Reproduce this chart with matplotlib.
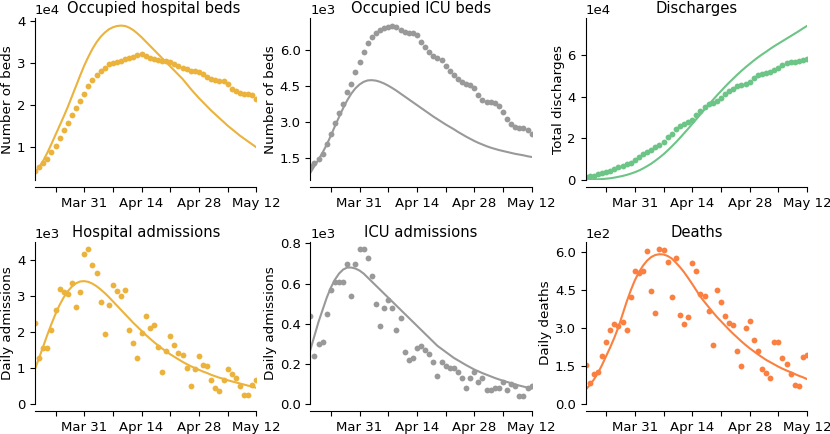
import matplotlib
matplotlib.use("Agg")
import matplotlib.pyplot as plt
import matplotlib.dates as mdates
from matplotlib.ticker import MaxNLocator
import pandas as pd

dates = pd.date_range("2020-03-19", "2020-05-12", freq="D")

# occupied hospital beds (x1e4): observed dots and model line
beds_obs = [0.41, 0.51, 0.60, 0.69, 0.87, 1.02, 1.21, 1.39, 1.56, 1.75, 1.92, 2.08, 2.26, 2.45,
            2.60, 2.71, 2.82, 2.89, 2.98, 3.01, 3.03, 3.06, 3.10, 3.13, 3.15, 3.19, 3.21, 3.18,
            3.13, 3.10, 3.07, 3.06, 3.05, 3.02, 2.99, 2.94, 2.89, 2.85, 2.82, 2.82, 2.79, 2.74,
            2.66, 2.61, 2.60, 2.58, 2.56, 2.50, 2.39, 2.32, 2.28, 2.26, 2.25, 2.23, 2.15]
beds_fit = [0.37, 0.50, 0.66, 0.85, 1.06, 1.28, 1.50, 1.72, 1.95, 2.20, 2.45, 2.70, 2.94, 3.15,
            3.34, 3.50, 3.63, 3.73, 3.81, 3.86, 3.89, 3.90, 3.89, 3.85, 3.79, 3.71, 3.62, 3.52,
            3.42, 3.32, 3.22, 3.12, 3.02, 2.92, 2.82, 2.72, 2.62, 2.50, 2.38, 2.27, 2.16, 2.06,
            1.96, 1.86, 1.77, 1.68, 1.59, 1.50, 1.42, 1.34, 1.26, 1.19, 1.12, 1.05, 0.98]

# occupied ICU beds (x1e3)
icu_beds_obs = [1.15, 1.27, 1.46, 1.67, 2.09, 2.51, 2.94, 3.35, 3.75, 4.25, 4.60, 5.06, 5.48, 5.93,
                6.29, 6.56, 6.71, 6.84, 6.92, 6.98, 7.02, 6.95, 6.84, 6.74, 6.71, 6.70, 6.63, 6.34,
                6.11, 5.90, 5.75, 5.66, 5.58, 5.33, 5.13, 4.97, 4.80, 4.67, 4.60, 4.55, 4.41, 4.11,
                3.93, 3.84, 3.81, 3.77, 3.65, 3.39, 3.11, 2.90, 2.80, 2.76, 2.72, 2.65, 2.48]
icu_beds_fit = [0.87, 1.15, 1.42, 1.72, 2.05, 2.42, 2.82, 3.20, 3.57, 3.90, 4.18, 4.40, 4.56, 4.67,
                4.73, 4.74, 4.72, 4.67, 4.60, 4.51, 4.41, 4.30, 4.18, 4.06, 3.94, 3.82, 3.70, 3.58,
                3.46, 3.34, 3.22, 3.11, 3.00, 2.89, 2.79, 2.69, 2.58, 2.48, 2.38, 2.29, 2.20, 2.12,
                2.05, 1.98, 1.92, 1.87, 1.82, 1.78, 1.74, 1.70, 1.66, 1.63, 1.60, 1.56, 1.53]

# cumulative discharges (x1e4)
disch_obs = [0.16, 0.19, 0.22, 0.27, 0.32, 0.38, 0.45, 0.53, 0.61, 0.68, 0.75, 0.83, 0.96, 1.11,
             1.23, 1.34, 1.46, 1.59, 1.69, 1.83, 2.07, 2.23, 2.44, 2.60, 2.71, 2.79, 2.87, 3.11,
             3.30, 3.50, 3.66, 3.71, 3.77, 3.95, 4.11, 4.25, 4.38, 4.49, 4.54, 4.59, 4.70, 4.90,
             5.03, 5.10, 5.13, 5.18, 5.25, 5.38, 5.53, 5.62, 5.65, 5.65, 5.68, 5.73, 5.81]
disch_fit = [0.02, 0.02, 0.03, 0.04, 0.05, 0.07, 0.09, 0.12, 0.16, 0.20, 0.25, 0.31, 0.38, 0.46,
             0.56, 0.67, 0.79, 0.93, 1.08, 1.24, 1.42, 1.61, 1.81, 2.02, 2.24, 2.46, 2.69, 2.92,
             3.15, 3.38, 3.61, 3.83, 4.05, 4.26, 4.47, 4.67, 4.86, 5.05, 5.23, 5.40, 5.56, 5.72,
             5.87, 6.01, 6.14, 6.28, 6.41, 6.53, 6.65, 6.77, 6.89, 7.01, 7.13, 7.26, 7.38]

# daily hospital admissions (x1e3)
hosp_adm_obs = [2.24, 1.27, 1.56, 1.55, 2.06, 2.62, 3.18, 3.10, 3.06, 3.36, 2.69, 3.12, 4.16, 4.29,
                3.86, 3.63, 2.82, 1.94, 2.75, 3.29, 3.15, 2.99, 3.17, 2.06, 1.69, 1.27, 1.97, 2.43,
                2.10, 2.18, 1.57, 0.90, 1.46, 1.90, 1.63, 1.42, 1.35, 1.00, 0.49, 0.97, 1.33, 1.08,
                1.06, 0.67, 0.45, 0.35, 0.68, 0.97, 0.83, 0.72, 0.51, 0.26, 0.26, 0.53, 0.68]
hosp_adm_fit = [0.97, 1.28, 1.60, 1.92, 2.22, 2.50, 2.75, 2.96, 3.13, 3.26, 3.35, 3.40, 3.41, 3.39,
                3.34, 3.27, 3.18, 3.08, 2.97, 2.85, 2.73, 2.61, 2.49, 2.37, 2.25, 2.14, 2.03, 1.92,
                1.82, 1.72, 1.63, 1.54, 1.46, 1.38, 1.31, 1.24, 1.17, 1.11, 1.05, 1.00, 0.95, 0.90,
                0.86, 0.81, 0.77, 0.73, 0.70, 0.66, 0.63, 0.60, 0.57, 0.54, 0.51, 0.48, 0.45]

# daily ICU admissions (x1e3)
icu_adm_obs = [0.44, 0.24, 0.30, 0.31, 0.45, 0.57, 0.61, 0.61, 0.61, 0.70, 0.54, 0.70, 0.77, 0.77,
               0.73, 0.64, 0.50, 0.39, 0.48, 0.52, 0.48, 0.37, 0.43, 0.26, 0.22, 0.23, 0.28, 0.29,
               0.27, 0.25, 0.21, 0.14, 0.21, 0.19, 0.18, 0.18, 0.16, 0.13, 0.08, 0.13, 0.16, 0.11,
               0.13, 0.07, 0.07, 0.08, 0.08, 0.11, 0.07, 0.10, 0.09, 0.04, 0.04, 0.08, 0.09]
icu_adm_fit = [0.27, 0.34, 0.41, 0.47, 0.53, 0.58, 0.62, 0.65, 0.67, 0.68, 0.68, 0.675, 0.665, 0.65,
               0.63, 0.61, 0.59, 0.57, 0.55, 0.53, 0.51, 0.49, 0.47, 0.45, 0.43, 0.41, 0.39, 0.37,
               0.35, 0.33, 0.31, 0.29, 0.275, 0.26, 0.245, 0.23, 0.218, 0.206, 0.194, 0.183, 0.172,
               0.163, 0.154, 0.146, 0.138, 0.130, 0.123, 0.116, 0.110, 0.104, 0.098, 0.092, 0.087,
               0.082, 0.077]

# daily deaths (x1e2)
deaths_obs = [1.55, 0.83, 1.17, 1.25, 1.89, 2.44, 2.93, 3.18, 3.07, 3.26, 2.95, 4.24, 5.27, 5.19,
              5.26, 6.07, 4.48, 3.62, 6.13, 6.08, 5.63, 4.24, 5.79, 3.54, 3.17, 3.44, 5.59, 5.26,
              4.36, 4.29, 3.68, 2.32, 4.50, 4.05, 3.48, 3.22, 3.13, 2.08, 1.52, 3.01, 3.28, 2.52,
              2.08, 1.38, 1.21, 1.02, 2.45, 2.45, 1.81, 1.59, 1.19, 0.77, 0.70, 1.85, 1.96]
deaths_fit = [0.57, 0.75, 0.97, 1.23, 1.55, 1.90, 2.25, 2.63, 3.05, 3.55, 4.05, 4.50, 4.90, 5.22,
              5.48, 5.68, 5.82, 5.90, 5.93, 5.92, 5.86, 5.76, 5.60, 5.42, 5.22, 4.99, 4.75, 4.50,
              4.25, 4.04, 3.84, 3.64, 3.45, 3.28, 3.11, 2.94, 2.78, 2.63, 2.48, 2.34, 2.21, 2.09,
              1.97, 1.86, 1.75, 1.66, 1.57, 1.48, 1.40, 1.33, 1.26, 1.19, 1.12, 1.06, 0.99]

titles = ["Occupied hospital beds", "Occupied ICU beds", "Discharges",
          "Hospital admissions", "ICU admissions", "Deaths"]
ylabels = ["Number of beds", "Number of beds", "Total discharges",
           "Daily admissions", "Daily admissions", "Daily deaths"]
exponents = [4, 3, 4, 3, 3, 2]
observed = [beds_obs, icu_beds_obs, disch_obs, hosp_adm_obs, icu_adm_obs, deaths_obs]
fitted = [beds_fit, icu_beds_fit, disch_fit, hosp_adm_fit, icu_adm_fit, deaths_fit]
colors = ["#ebb33b", "#999999", "#6cc486", "#ebb33b", "#999999", "#fb8040"]
start_at_zero = [False, False, True, True, True, True]

plt.rcParams["xtick.labelsize"] = 9.5
plt.rcParams["ytick.labelsize"] = 9.5

fig, axes = plt.subplots(2, 3, figsize=(8.3, 4.34), dpi=100)
fig.subplots_adjust(left=0.0422, right=0.9723, top=0.958, bottom=0.069,
                    wspace=0.244, hspace=0.383)

for k, ax in enumerate(axes.flat):
    scale = 10 ** exponents[k]
    obs = [v * scale for v in observed[k]]
    fit = [v * scale for v in fitted[k]]
    ax.plot(dates, fit, color=colors[k], lw=1.5)
    ax.plot(dates, obs, "o", color=colors[k], ms=4.2, mec="none")

    ax.set_xlim(dates[0], dates[-1])
    if start_at_zero[k]:
        ax.set_ylim(bottom=0)

    ax.set_xticks(dates[12::14])
    ax.set_xticks(dates[5::14], minor=True)
    ax.xaxis.set_major_formatter(mdates.DateFormatter("%b %d"))
    ax.tick_params(axis="x", which="minor", length=3.5, width=0.8)

    ax.yaxis.set_major_locator(MaxNLocator(nbins=5, steps=[1, 1.5, 2, 2.5, 5, 10]))
    ax.ticklabel_format(axis="y", style="sci",
                        scilimits=(exponents[k], exponents[k]))

    ax.spines["top"].set_visible(False)
    ax.spines["right"].set_visible(False)
    ax.spines["bottom"].set_position(("outward", 5))

    title_x = 0.534 if k == 0 else 0.5
    ax.set_title(titles[k], fontsize=10.6, x=title_x, pad=4)
    ax.set_ylabel(ylabels[k], fontsize=9.7, labelpad=2)

fig.savefig("out.png", dpi=100)
